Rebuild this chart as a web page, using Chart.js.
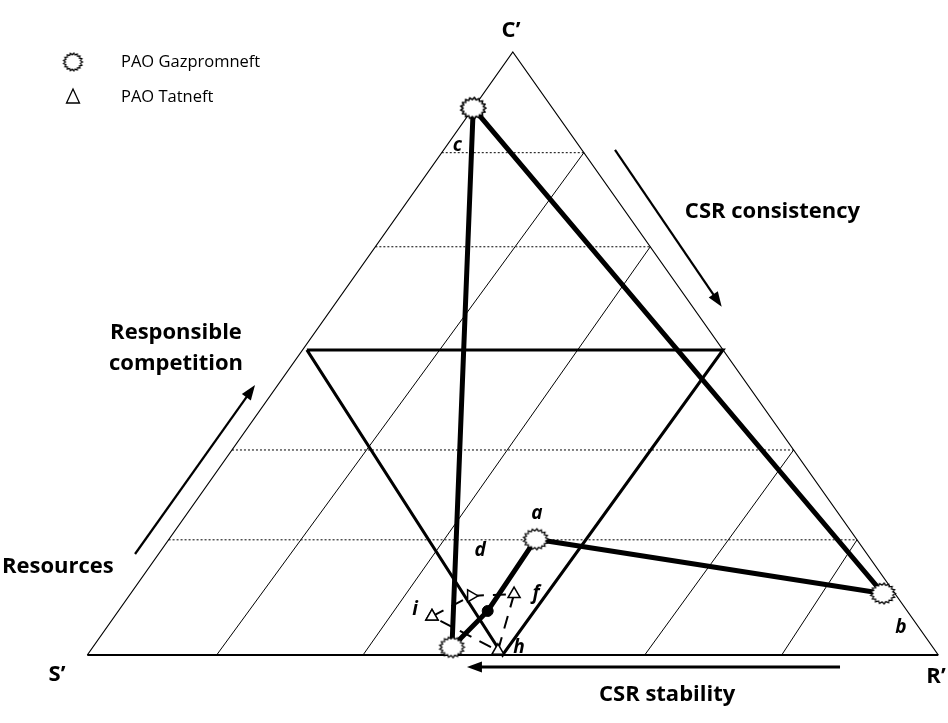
<!DOCTYPE html>
<html>
<head>
<meta charset="utf-8">
<script src="https://cdn.jsdelivr.net/npm/chart.js@4.4.1/dist/chart.umd.min.js"></script>
<style>
  html, body { margin: 0; padding: 0; background: #fff; }
  #wrap { width: 948px; height: 723px; position: relative; }
</style>
</head>
<body>
<div id="wrap"><canvas id="ternaryChart"></canvas></div>
<script>
/* Data - ternary shares in % (S', R', C') */

const gazLabels = ["c", "b", "a", "", ""];
const gazS = [9.3, 1.4, 37.7, 49.3, 56.5];
const gazR = [0, 88.4, 43.1, 43.4, 42.2];
const gazC = [90.7, 10.2, 19.2, 7.3, 1.3];

const tatLabels = ["i", "d", "f", "h"];
const tatS = [56.3, 50.0, 44.8, 51.4];
const tatR = [37.3, 40.2, 45.1, 47.9];
const tatC = [6.4, 9.8, 10.1, 0.7];

/* grid: dotted C' levels, thin lines start at R' ticks on the base */
const cGrid = [19.1, 34.0, 67.7, 83.3];
const rBase = [15.2, 32.4, 65.5, 81.6];

/* zone triangle */
const zoneS = [48.9, 0, 51.2];
const zoneR = [0.5, 49.4, 48.8];
const zoneC = [50.6, 50.6, 0];

/* helpers */

function toXY(s, r, c) {
  const sum = s + r + c;
  return { x: (r + c / 2) / sum, y: c / sum };
}

function seriesPoints(S, R, C, close) {
  const pts = S.map((s, i) => toXY(s, R[i], C[i]));
  if (close) pts.push(pts[0]);
  return pts;
}

function makeBurst(w, h) {
  const cv = document.createElement("canvas");
  cv.width = w + 4;
  cv.height = h + 4;
  const g = cv.getContext("2d");
  const cx = cv.width / 2, cy = cv.height / 2;
  const n = 17;
  g.beginPath();
  for (let k = 0; k < n * 2; k++) {
    const ang = k * Math.PI / n;
    const f = k % 2 === 0 ? 1 : 0.8;
    const px = cx + Math.cos(ang) * (w / 2) * f;
    const py = cy + Math.sin(ang) * (h / 2) * f;
    if (k === 0) g.moveTo(px, py); else g.lineTo(px, py);
  }
  g.closePath();
  g.fillStyle = "#fff";
  g.fill();
  g.lineWidth = 1.2;
  g.strokeStyle = "#000";
  g.stroke();
  return cv;
}

const burst = makeBurst(25, 21);
const burstSmall = makeBurst(19, 18);

/* datasets */

const lineBase = {
  showLine: true,
  borderColor: "#000",
  pointRadius: 0,
  tension: 0,
  fill: false
};

const datasets = [];

datasets.push({
  ...lineBase,
  label: "PAO Gazpromneft",
  data: seriesPoints(gazS, gazR, gazC, true),
  borderWidth: 5,
  pointRadius: ctx => ctx.dataIndex === 3 ? 5.5 : 10,
  pointStyle: ctx => ctx.dataIndex === 3 ? "circle" : burst,
  pointBackgroundColor: "#000",
  pointBorderColor: "#000",
  pointBorderWidth: 1
});

datasets.push({
  ...lineBase,
  label: "PAO Tatneft",
  data: seriesPoints(tatS, tatR, tatC, true),
  borderWidth: 2,
  borderDash: [13, 9],
  pointRadius: 7,
  pointStyle: "triangle",
  pointRotation: ctx => ctx.dataIndex === 1 ? 90 : 0,
  pointBackgroundColor: "#fff",
  pointBorderColor: "#000",
  pointBorderWidth: 1.5
});

datasets.push({
  ...lineBase,
  label: "zone",
  data: seriesPoints(zoneS, zoneR, zoneC, true),
  borderWidth: 3
});

cGrid.forEach(c => {
  datasets.push({
    ...lineBase,
    label: "level",
    data: [toXY(100 - c, 0, c), toXY(0, 100 - c, c)],
    borderWidth: 1,
    borderDash: [2, 2]
  });
});

rBase.forEach((r, i) => {
  const cTop = cGrid[cGrid.length - 1 - i];
  datasets.push({
    ...lineBase,
    label: "grid",
    data: [toXY(100 - r, r, 0), toXY(0, 100 - cTop, cTop)],
    borderWidth: 1
  });
});

datasets.push({
  ...lineBase,
  label: "sides",
  data: [toXY(100, 0, 0), toXY(0, 0, 100), toXY(0, 100, 0)],
  borderWidth: 1.2
});

datasets.push({
  ...lineBase,
  label: "base",
  data: [toXY(100, 0, 0), toXY(0, 100, 0)],
  borderWidth: 2
});

/* labels, arrows and legend */

const pointLabelOffsets = {
  c: [-16, 38], b: [18, 34], a: [1, -26],
  i: [-17, -7], d: [9, -45], f: [22, -1], h: [21, -3]
};

function drawArrow(ctx, x1, y1, x2, y2, width) {
  const ang = Math.atan2(y2 - y1, x2 - x1);
  const len = 15, half = 5.5;
  ctx.save();
  ctx.strokeStyle = "#000";
  ctx.fillStyle = "#000";
  ctx.lineWidth = width;
  ctx.beginPath();
  ctx.moveTo(x1, y1);
  ctx.lineTo(x2 - Math.cos(ang) * len * 0.8, y2 - Math.sin(ang) * len * 0.8);
  ctx.stroke();
  ctx.beginPath();
  ctx.moveTo(x2, y2);
  ctx.lineTo(x2 - Math.cos(ang) * len - Math.sin(ang) * half, y2 - Math.sin(ang) * len + Math.cos(ang) * half);
  ctx.lineTo(x2 - Math.cos(ang) * len + Math.sin(ang) * half, y2 - Math.sin(ang) * len - Math.cos(ang) * half);
  ctx.closePath();
  ctx.fill();
  ctx.restore();
}

const decorPlugin = {
  id: "ternaryDecor",
  afterDatasetsDraw(chart) {
    const ctx = chart.ctx;
    const sx = chart.scales.x, sy = chart.scales.y;
    const P = (x, y) => [sx.getPixelForValue(x), sy.getPixelForValue(y)];

    // arrows
    let a = P(0.6201, 0.8375), b = P(0.7455, 0.5776);
    drawArrow(ctx, a[0], a[1], b[0], b[1], 2.2);
    a = P(0.0561, 0.1675); b = P(0.1971, 0.4478);
    drawArrow(ctx, a[0], a[1], b[0], b[1], 2.2);
    a = P(0.8845, -0.0199); b = P(0.4461, -0.0199);
    drawArrow(ctx, a[0], a[1], b[0], b[1], 3);

    ctx.save();
    ctx.fillStyle = "#000";
    ctx.textBaseline = "middle";

    // vertex names
    ctx.font = "bold 22px 'Open Sans'";
    ctx.textAlign = "center";
    let p = P(0.4979, 1.0348);
    ctx.fillText("C\u2019", p[0], p[1]);
    p = P(-0.0356, -0.0332);
    ctx.fillText("S\u2019", p[0], p[1]);
    p = P(0.9973, -0.0365);
    ctx.fillText("R\u2019", p[0], p[1]);

    // axis captions
    ctx.font = "bold 22px 'Open Sans'";
    p = P(0.1042, 0.534);
    ctx.fillText("Responsible", p[0], p[1]);
    p = P(0.1042, 0.4826);
    ctx.fillText("competition", p[0], p[1]);
    ctx.textAlign = "left";
    p = P(0.7022, 0.7347);
    ctx.fillText("CSR consistency", p[0], p[1]);
    p = P(-0.1002, 0.1459);
    ctx.fillText("Resources", p[0], p[1]);
    p = P(0.6013, -0.0663);
    ctx.fillText("CSR stability", p[0], p[1]);

    // point letters
    ctx.font = "italic bold 19px 'Open Sans'";
    ctx.textAlign = "center";
    [[0, gazLabels], [1, tatLabels]].forEach(([dsIndex, labels]) => {
      const meta = chart.getDatasetMeta(dsIndex);
      labels.forEach((txt, i) => {
        if (!txt) return;
        const off = pointLabelOffsets[txt];
        const el = meta.data[i];
        ctx.fillText(txt, el.x + off[0], el.y + off[1]);
      });
    });

    // legend
    ctx.drawImage(burstSmall, 73 - burstSmall.width / 2, 62 - burstSmall.height / 2);
    ctx.beginPath();
    ctx.moveTo(73, 89);
    ctx.lineTo(79.5, 103);
    ctx.lineTo(66.5, 103);
    ctx.closePath();
    ctx.lineWidth = 1.3;
    ctx.strokeStyle = "#000";
    ctx.stroke();
    ctx.font = "16.5px 'Open Sans'";
    ctx.textAlign = "left";
    ctx.fillText("PAO Gazpromneft", 121, 62);
    ctx.fillText("PAO Tatneft", 121, 97);
    ctx.restore();
  }
};

/* chart */

new Chart(document.querySelector("#ternaryChart"), {
  type: "scatter",
  data: { datasets },
  options: {
    responsive: true,
    maintainAspectRatio: false,
    animation: false,
    events: [],
    layout: { padding: 0, autoPadding: false },
    plugins: {
      legend: { display: false },
      tooltip: { enabled: false }
    },
    scales: {
      x: { type: "linear", min: -0.10259, max: 1.0114, display: false },
      y: { type: "linear", min: -0.11277, max: 1.08624, display: false }
    }
  },
  plugins: [decorPlugin]
});
</script>
</body>
</html>
